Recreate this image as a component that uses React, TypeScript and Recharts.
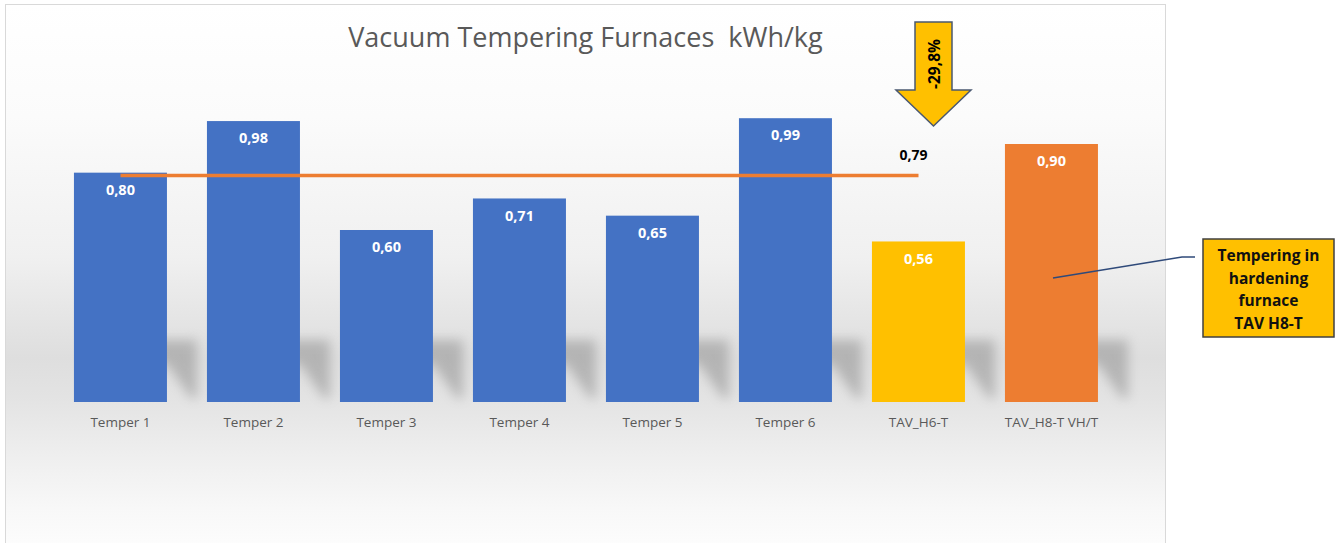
import { Bar, Cell, ComposedChart, LabelList, Line, XAxis, YAxis } from 'recharts';

const categories = [
  'Temper 1',
  'Temper 2',
  'Temper 3',
  'Temper 4',
  'Temper 5',
  'Temper 6',
  'TAV_H6-T',
  'TAV_H8-T VH/T',
];
const kwhPerKg = [0.8, 0.98, 0.6, 0.71, 0.65, 0.99, 0.56, 0.9];
const barColors = ['#4472C4', '#4472C4', '#4472C4', '#4472C4', '#4472C4', '#4472C4', '#FFC000', '#ED7D31'];
const averageLine = [0.79, 0.79, 0.79, 0.79, 0.79, 0.79, 0.79, null];
const titleText = 'Vacuum Tempering Furnaces  kWh/kg';
const arrowText = '-29,8%';
const calloutLines = ['Tempering in', 'hardening', 'furnace', 'TAV H8-T'];

const data = categories.map((name, i) => ({
  name,
  value: kwhPerKg[i],
  avg: averageLine[i],
}));

const FONT = '"Open Sans", "Noto Sans", sans-serif';

const formatComma = (v: unknown) =>
  typeof v === 'number' ? v.toFixed(2).replace('.', ',') : '';

// bar with a soft shadow thrown to the right on the lower part
const ShadowBar = (props: any) => {
  const { x, y, width, height, fill } = props;
  const base = y + height;
  const H = 62;
  const S = 30;
  const pts = [
    [x + 20, base - H],
    [x + width + S, base - H],
    [x + width + S, base - 4],
    [x + width + S - 6, base - 4],
    [x + width, base - H + 24],
    [x + 20, base - H + 24],
  ]
    .map((p) => p.join(','))
    .join(' ');
  return (
    <g>
      <polygon points={pts} fill="#7a7a7a" opacity={0.42} filter="url(#barShadow)" />
      <rect x={x} y={y} width={width} height={height} fill={fill} />
    </g>
  );
};

const AvgLabel = (props: any) => {
  const { x, y, index, value } = props;
  if (index !== 6) return null;
  return (
    <text
      x={x - 5}
      y={y - 21}
      textAnchor="middle"
      dominantBaseline="central"
      fontFamily={FONT}
      fontWeight={700}
      fontSize={14}
      fill="#000"
    >
      {formatComma(value)}
    </text>
  );
};

export default function App() {
  return (
    <div style={{ position: 'absolute', left: 0, top: 0, width: 1344, height: 543, background: '#fff', overflow: 'hidden' }}>
      <div
        style={{
          position: 'absolute',
          left: 5,
          top: 4,
          width: 1159,
          height: 560,
          border: '1px solid #d9d9d9',
          background:
            'linear-gradient(to bottom, #ffffff 0%, #fbfbfb 20%, #f0f0f0 45%, #dedede 63%, #e3e3e3 70%, #eeeeee 80%, #f8f8f8 90%, #ffffff 100%)',
        }}
      >
        <div
          style={{
            position: 'absolute',
            left: 0,
            width: 1159,
            top: 13,
            textAlign: 'center',
            fontFamily: FONT,
            fontSize: 27,
            color: '#595959',
            whiteSpace: 'pre',
          }}
        >
          {titleText}
        </div>
        <div style={{ position: 'absolute', left: 0, top: 0 }}>
          <ComposedChart
            width={1160}
            height={539}
            data={data}
            barCategoryGap="15%"
            margin={{ top: 53, right: 48, left: 48, bottom: 112 }}
          >
            <defs>
              <filter id="barShadow" x="-30%" y="-30%" width="160%" height="160%">
                <feGaussianBlur stdDeviation="6" />
              </filter>
            </defs>
            <XAxis
              dataKey="name"
              axisLine={false}
              tickLine={false}
              interval={0}
              height={30}
              tickMargin={9}
              tick={{ fill: '#595959', fontSize: 13.5, fontFamily: FONT }}
            />
            <YAxis hide domain={[0, 1.2]} />
            <Bar dataKey="value" isAnimationActive={false} shape={ShadowBar}>
              {data.map((d, i) => (
                <Cell key={d.name} fill={barColors[i]} />
              ))}
              <LabelList
                dataKey="value"
                position="insideTop"
                offset={12}
                formatter={formatComma}
                fill="#ffffff"
                fontFamily={FONT}
                fontWeight={700}
                fontSize={14.5}
              />
            </Bar>
            <Line
              dataKey="avg"
              stroke="#ED7D31"
              strokeWidth={3.5}
              dot={false}
              activeDot={false}
              connectNulls={false}
              isAnimationActive={false}
            >
              <LabelList dataKey="avg" content={AvgLabel} />
            </Line>
          </ComposedChart>
        </div>
      </div>

      {/* down arrow annotation */}
      <svg style={{ position: 'absolute', left: 0, top: 0 }} width={1344} height={543}>
        <polygon
          points="915,22 952,22 952,90 971,90 933.5,126 896,90 915,90"
          fill="#FFC000"
          stroke="#4a5870"
          strokeWidth={1.5}
          strokeLinejoin="miter"
        />
        <text
          x={0}
          y={0}
          transform="translate(934 64) rotate(-90)"
          textAnchor="middle"
          dominantBaseline="central"
          fontFamily={FONT}
          fontWeight={700}
          fontSize={15.5}
          fill="#000"
        >
          {arrowText}
        </text>
        <polyline
          points="1053,278 1182,257 1195,257"
          fill="none"
          stroke="#2f4a7a"
          strokeWidth={1.5}
        />
        <rect x={1203} y={239} width={131} height={98} fill="#FFC000" stroke="#404040" strokeWidth={1.5} />
        {calloutLines.map((line, i) => (
          <text
            key={line}
            x={1268.5}
            y={255 + i * 22.5}
            textAnchor="middle"
            dominantBaseline="central"
            fontFamily={FONT}
            fontWeight={700}
            fontSize={15.5}
            fill="#111"
          >
            {line}
          </text>
        ))}
      </svg>
    </div>
  );
}
